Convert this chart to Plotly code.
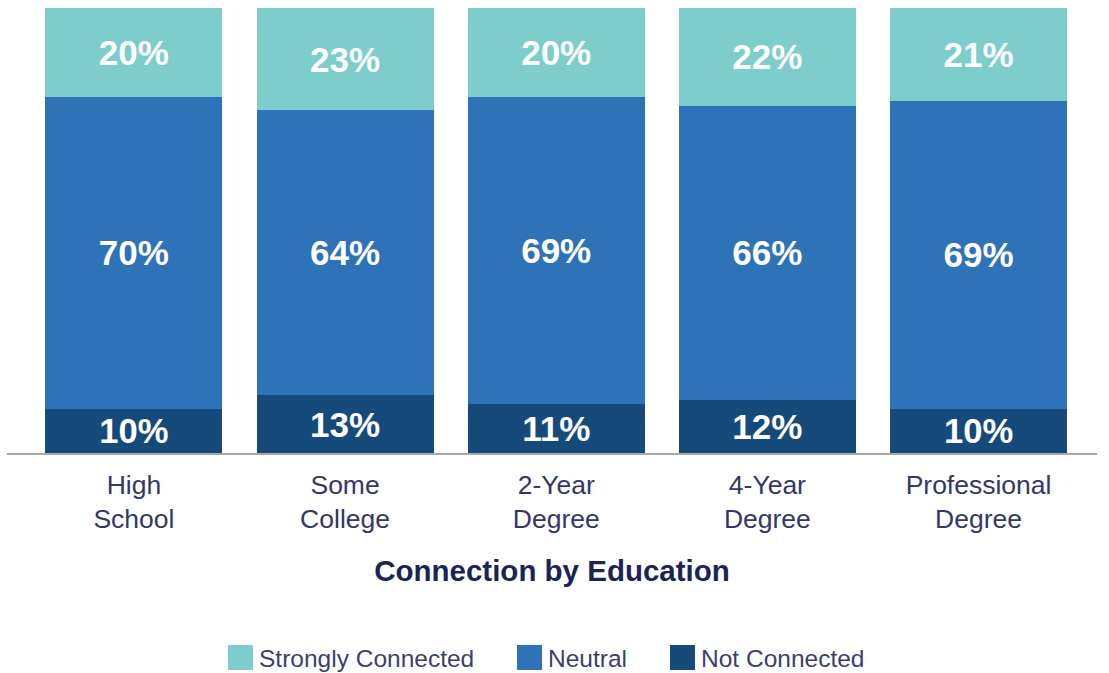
import plotly.graph_objects as go

# Share of respondents by connection level, per education group (%)
categories = ["High<br>School", "Some<br>College", "2-Year<br>Degree", "4-Year<br>Degree", "Professional<br>Degree"]
not_connected = [10, 13, 11, 12, 10]
neutral = [70, 64, 69, 66, 69]
strongly_connected = [20, 23, 20, 22, 21]

series = [
    ("Not Connected", not_connected, "#154a7b"),
    ("Neutral", neutral, "#2e72b8"),
    ("Strongly Connected", strongly_connected, "#7ccdcb"),
]

W, H = 1109, 673
ML, MR, MT, MB = 7, 12, 8, 220
PW, PH = W - ML - MR, H - MT - MB


def px_x(x):
    return (x - ML) / PW


def px_y(y):
    return (H - MB - y) / PH


fig = go.Figure()
for name, vals, color in series:
    fig.add_trace(go.Bar(
        name=name,
        x=categories,
        y=vals,
        width=0.838,
        marker=dict(color=color, line=dict(width=0)),
        text=[f"{v}%" for v in vals],
        textposition="inside",
        insidetextanchor="middle",
        textangle=0,
        textfont=dict(family="Liberation Sans, Arial, sans-serif", size=35, color="white", weight="bold"),
        showlegend=False,
        hoverinfo="skip",
    ))

# Legend drawn as swatches with labels beneath the chart
legend_items = [
    ("Strongly Connected", "#7ccdcb", 228),
    ("Neutral", "#2e72b8", 517),
    ("Not Connected", "#154a7b", 670),
]
shapes = []
annotations = []
for label, color, x0 in legend_items:
    shapes.append(dict(
        type="rect", xref="paper", yref="paper",
        x0=px_x(x0), x1=px_x(x0 + 25), y0=px_y(670), y1=px_y(645),
        fillcolor=color, line=dict(width=0),
    ))
    annotations.append(dict(
        xref="paper", yref="paper", x=px_x(x0 + 29), y=px_y(658),
        xanchor="left", yanchor="middle", showarrow=False,
        text=label,
        font=dict(family="Liberation Sans, Arial, sans-serif", size=24.5, color="#3b3f6c"),
    ))

fig.update_layout(
    width=W, height=H,
    margin=dict(l=ML, r=MR, t=MT, b=MB, pad=0),
    barmode="stack",
    plot_bgcolor="white",
    paper_bgcolor="white",
    shapes=shapes,
    annotations=annotations,
    xaxis=dict(
        type="category",
        range=[-0.601, 4.561],
        showline=True, linecolor="#a8a8a8", linewidth=2,
        showgrid=False, zeroline=False, ticks="",
        tickfont=dict(family="Liberation Sans, Arial, sans-serif", size=26.5, color="#333866"),
        ticklabelstandoff=7,
        title=dict(
            text="Connection by Education",
            font=dict(family="Liberation Sans, Arial, sans-serif", size=29.5, color="#1b2456", weight="bold"),
            standoff=27,
        ),
    ),
    yaxis=dict(range=[0, 100], visible=False, showgrid=False, zeroline=False),
)

fig.write_html("out.html")
